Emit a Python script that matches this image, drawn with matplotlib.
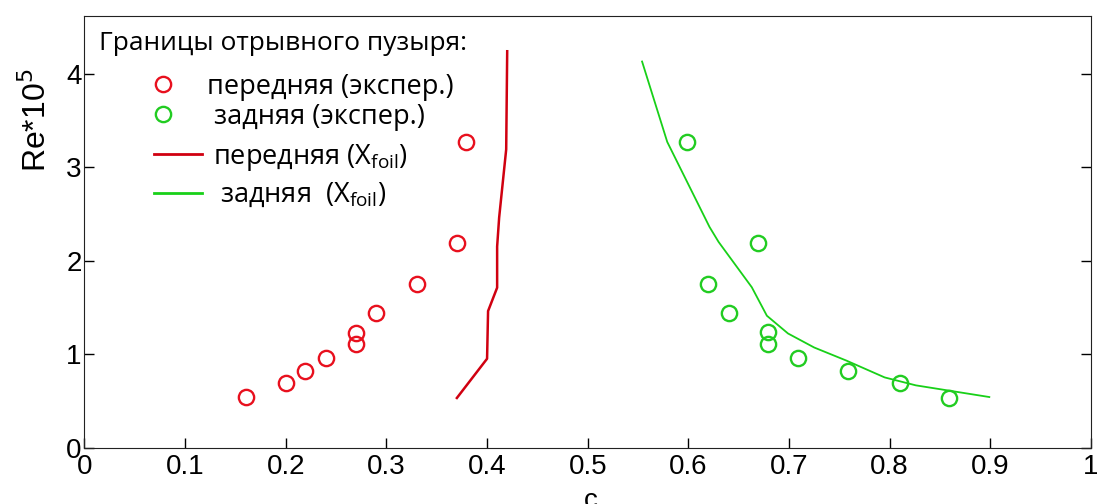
import matplotlib.pyplot as plt
from matplotlib.lines import Line2D

# experimental bubble boundaries (c, Re*1e-5)
front_exp_x = [0.160, 0.200, 0.219, 0.240, 0.270, 0.270, 0.290, 0.330, 0.370, 0.379]
front_exp_re = [0.54, 0.69, 0.82, 0.96, 1.11, 1.23, 1.44, 1.75, 2.19, 3.27]
rear_exp_x = [0.859, 0.810, 0.759, 0.709, 0.679, 0.679, 0.640, 0.620, 0.669, 0.599]
rear_exp_re = [0.53, 0.69, 0.82, 0.96, 1.11, 1.235, 1.44, 1.75, 2.19, 3.27]

# Xfoil curves
front_xf_x = [0.370, 0.400, 0.401, 0.410, 0.410, 0.412, 0.419, 0.420]
front_xf_re = [0.53, 0.95, 1.46, 1.71, 2.15, 2.46, 3.19, 4.24]
rear_xf_x = [0.899, 0.826, 0.795, 0.757, 0.725, 0.699, 0.678, 0.663, 0.630, 0.621, 0.579, 0.554]
rear_xf_re = [0.54, 0.665, 0.75, 0.93, 1.07, 1.22, 1.41, 1.715, 2.20, 2.36, 3.27, 4.13]

red_pt = '#e8101e'
red_ln = '#d00010'
green_pt = '#22cc22'
green_ln = '#18d018'

fig = plt.figure(figsize=(10.97, 5.04), dpi=100)
ax = fig.add_axes([0.077, 0.1121, 0.9175, 0.8567])

ax.plot(front_xf_x, front_xf_re, color=red_ln, lw=1.8)
ax.plot(rear_xf_x, rear_xf_re, color=green_ln, lw=1.3)
ax.plot(front_exp_x, front_exp_re, 'o', ms=11, mfc='none', mec=red_pt, mew=1.7)
ax.plot(rear_exp_x, rear_exp_re, 'o', ms=11, mfc='none', mec=green_pt, mew=1.7)

ax.set_xlim(0, 1)
ax.set_ylim(0, 4.62)
ax.set_xticks([0, 0.1, 0.2, 0.3, 0.4, 0.5, 0.6, 0.7, 0.8, 0.9, 1])
ax.set_xticklabels(['0', '0.1', '0.2', '0.3', '0.4', '0.5', '0.6', '0.7', '0.8', '0.9', '1'])
ax.set_yticks([0, 1, 2, 3, 4])
ax.tick_params(direction='in', length=7, width=1, labelsize=20, right=True, pad=2)
ax.tick_params(axis='x', pad=5)
for lab in ax.get_xticklabels() + ax.get_yticklabels():
    lab.set_family('Liberation Sans')
for s in ax.spines.values():
    s.set_color('#222222')

ax.set_ylabel('Re*10$^5$', fontsize=23, family='Liberation Sans', va='center')
ax.yaxis.set_label_coords(-0.048, 0.757)
ax.set_xlabel('c', fontsize=20, family='Liberation Sans', va='center')
ax.xaxis.set_label_coords(0.503, -0.125)

font = {'family': 'Open Sans', 'size': 19.5}

# legend: circles
h_exp = [
    Line2D([], [], ls='none', marker='o', ms=11, mfc='none', mec=red_pt, mew=1.7),
    Line2D([], [], ls='none', marker='o', ms=11, mfc='none', mec=green_pt, mew=1.7),
]
l_exp = ['передняя (экспер.)', ' задняя (экспер.)']
leg1 = ax.legend(h_exp, l_exp, loc='center left', bbox_to_anchor=(0.065, 0.801),
                 frameon=False, prop=font, handlelength=1.0, handletextpad=1.1,
                 labelspacing=0.08, borderpad=0, borderaxespad=0)
ax.add_artist(leg1)

# legend: lines
h_xf = [
    Line2D([], [], color=red_ln, lw=2),
    Line2D([], [], color=green_ln, lw=2),
]
l_xf = ['передняя (X$_{\\mathregular{foil}}$)', ' задняя  (X$_{\\mathregular{foil}}$)']
ax.legend(h_xf, l_xf, loc='center left', bbox_to_anchor=(0.069, 0.63),
          frameon=False, prop=font, handlelength=1.78, handletextpad=0.4,
          labelspacing=0.3, borderpad=0, borderaxespad=0)

ax.text(0.0144, 0.9206, 'Границы отрывного пузыря:', transform=ax.transAxes,
        ha='left', va='baseline', fontsize=19, family='Open Sans')

fig.savefig('out.png', dpi=100)
